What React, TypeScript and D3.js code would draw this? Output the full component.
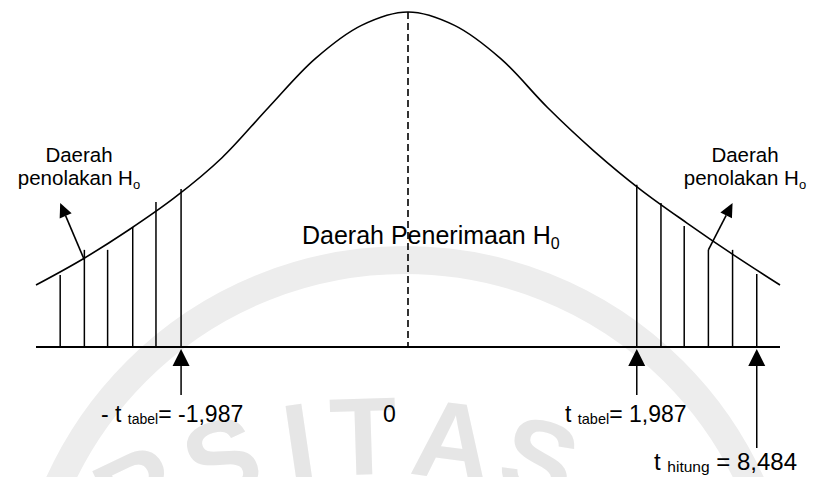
import React from "react";
import * as d3 from "d3";

const WIDTH = 813;
const HEIGHT = 477;
const FONT = "'Liberation Sans', Arial, Helvetica, sans-serif";

// density curve (u = schematic t axis, h = relative height)
const curveU = [-4, -3.5, -3, -2.5, -2, -1.5, -1, -0.5, 0, 0.5, 1, 1.5, 2, 2.5, 3, 3.5, 4];
const curveH = [0.185, 0.262, 0.35, 0.448, 0.565, 0.715, 0.86, 0.96, 1, 0.96, 0.86, 0.715, 0.585, 0.47, 0.37, 0.275, 0.185];

// hatching of the two rejection regions
const hatchLeftU = [-3.74, -3.48, -3.23, -2.96, -2.71, -2.44];
const hatchLeftH = [0.215, 0.29, 0.29, 0.358, 0.433, 0.472];
const hatchRightU = [2.46, 2.72, 2.97, 3.23, 3.49, 3.75];
const hatchRightH = [0.484, 0.43, 0.361, 0.29, 0.29, 0.218];

// pointer arrows "Daerah penolakan" : [fromU, fromH, toU, toH]
const pointers = [
  [-3.48, 0.26, -3.74, 0.43],
  [3.23, 0.29, 3.49, 0.43],
];

// up arrows under the axis: t tabel (-), t tabel (+), t hitung
const markerU = [-2.44, 2.46, 3.75];
const markerLen = [46, 46, 99];

// watermark letters (faint logo text behind the chart)
const wmLetters = ["R", "S", "I", "T", "A", "S"];
const wmX = [120, 210, 293, 362, 458, 551];

function arrowPath(x1: number, y1: number, x2: number, y2: number, len: number, half: number) {
  const a = Math.atan2(y2 - y1, x2 - x1);
  const bx = x2 - len * Math.cos(a);
  const by = y2 - len * Math.sin(a);
  const px = -Math.sin(a) * half;
  const py = Math.cos(a) * half;
  return {
    line: `M${x1},${y1}L${bx},${by}`,
    head: `M${x2},${y2}L${bx + px},${by + py}L${bx - px},${by - py}Z`,
  };
}

export default function App() {
  const x = d3.scaleLinear().domain([-4, 4]).range([36, 780]);
  const y = d3.scaleLinear().domain([0, 1]).range([347, 12]);

  const pts = curveU.map((u, i) => [u, curveH[i]] as [number, number]);
  const line = d3.line<[number, number]>()
    .x(d => x(d[0]))
    .y(d => y(d[1]))
    .curve(d3.curveCatmullRom.alpha(0.5));

  const hatch = [
    ...hatchLeftU.map((u, i) => [u, hatchLeftH[i]]),
    ...hatchRightU.map((u, i) => [u, hatchRightH[i]]),
  ];

  // watermark geometry
  const wmCx = 380, wmCy = 995, wmRTop = 600, wmSize = 110;
  const wmRBase = wmRTop - wmSize * 0.72;

  return (
    <svg width={WIDTH} height={HEIGHT} style={{ position: "fixed", left: 0, top: 0, background: "#fff" }}
      fontFamily={FONT}>
      <rect width={WIDTH} height={HEIGHT} fill="#fff" />

      {/* faint watermark */}
      <g fill="none" stroke="#ededed" strokeWidth={28}>
        <circle cx={405} cy={640} r={380} />
      </g>
      <g fill="#e6e6e6" fontWeight="bold" fontSize={wmSize}>
        {wmLetters.map((ch, i) => {
          const th = Math.asin((wmX[i] - wmCx) / wmRTop);
          const bx = wmCx + wmRBase * Math.sin(th);
          const by = wmCy - wmRBase * Math.cos(th);
          return (
            <text key={i} x={bx} y={by} textAnchor="middle"
              transform={`rotate(${(th * 180) / Math.PI},${bx},${by})`}>{ch}</text>
          );
        })}
      </g>

      {/* axis line */}
      <line x1={x(-4)} x2={x(4)} y1={y(0)} y2={y(0)} stroke="#000" strokeWidth={2} />

      {/* centre dashed line */}
      <line x1={x(0)} x2={x(0)} y1={y(1)} y2={y(0)} stroke="#000" strokeWidth={1.6} strokeDasharray="7,4" />

      {/* density curve */}
      <path d={line(pts) || ""} fill="none" stroke="#000" strokeWidth={1.6} />

      {/* hatching */}
      {hatch.map((d, i) => (
        <line key={i} x1={x(d[0])} x2={x(d[0])} y1={y(0)} y2={y(d[1])} stroke="#000" strokeWidth={1.5} />
      ))}

      {/* pointer arrows */}
      {pointers.map((p, i) => {
        const a = arrowPath(x(p[0]), y(p[1]), x(p[2]), y(p[3]), 14, 6.5);
        return (
          <g key={i}>
            <path d={a.line} stroke="#000" strokeWidth={1.6} />
            <path d={a.head} fill="#000" />
          </g>
        );
      })}

      {/* up arrows */}
      {markerU.map((u, i) => {
        const a = arrowPath(x(u), y(0) + 2 + markerLen[i], x(u), y(0) + 2, 17, 8.5);
        return (
          <g key={i}>
            <path d={a.line} stroke="#000" strokeWidth={1.5} />
            <path d={a.head} fill="#000" />
          </g>
        );
      })}

      {/* region labels */}
      <g fontSize={20.5} textAnchor="middle" fill="#000">
        <text x={79} y={162}>Daerah</text>
        <text x={79} y={185}>penolakan H<tspan fontSize={13} dy={4}>o</tspan></text>
        <text x={745} y={162}>Daerah</text>
        <text x={745} y={185}>penolakan H<tspan fontSize={13} dy={4}>o</tspan></text>
      </g>
      <text x={302} y={244} fontSize={25} fill="#000">
        Daerah Penerimaan H<tspan fontSize={16} dy={5}>0</tspan>
      </text>

      {/* value labels */}
      <g fontSize={23} fill="#000">
        <text x={101} y={422}>- t <tspan fontSize={14} dy={2}>tabel</tspan><tspan dy={-2}>= -1,987</tspan></text>
        <text x={x(0) - 25} y={422}>0</text>
        <text x={565} y={422}>t <tspan fontSize={14.5} dy={2}>tabel</tspan><tspan dy={-2}>= 1,987</tspan></text>
        <text x={654} y={470} fontSize={24}>t <tspan fontSize={15.5} dy={2}>hitung</tspan><tspan dy={-2}> = 8,484</tspan></text>
      </g>
    </svg>
  );
}
